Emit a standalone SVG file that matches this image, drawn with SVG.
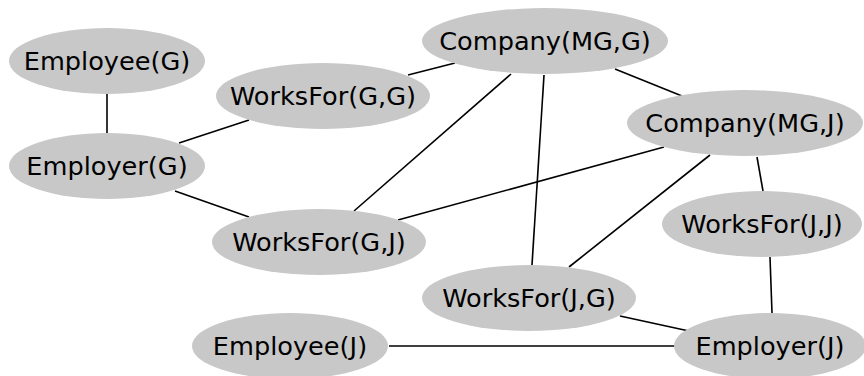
<svg xmlns="http://www.w3.org/2000/svg" width="864" height="376" viewBox="0 0 864 376">
<style>
.n ellipse{fill:#c8c8c8;stroke:none}
.n text{font-family:"DejaVu Sans",sans-serif;font-size:25.6px;fill:#000;text-anchor:middle}
.e line{stroke:#000;stroke-width:1.6}
</style>
<rect width="864" height="376" fill="#fff"/>
<g class="e" id="edges">
<line x1="107" y1="94" x2="107" y2="133"/>
<line x1="179" y1="143" x2="249" y2="120"/>
<line x1="408" y1="75" x2="455" y2="63"/>
<line x1="175" y1="191" x2="249" y2="217"/>
<line x1="354" y1="211" x2="511" y2="74"/>
<line x1="398" y1="220" x2="664" y2="147"/>
<line x1="615" y1="69" x2="682" y2="96"/>
<line x1="544" y1="75" x2="532" y2="265"/>
<line x1="710" y1="155" x2="569" y2="267"/>
<line x1="757" y1="157" x2="763" y2="191"/>
<line x1="770" y1="257" x2="772" y2="313"/>
<line x1="620" y1="316" x2="689" y2="331"/>
<line x1="389" y1="346" x2="675" y2="346"/>
</g>
<g class="n" id="employee_g"><ellipse cx="107" cy="61" rx="98" ry="33"/><text x="107" y="70">Employee(G)</text></g>
<g class="n" id="worksfor_gg"><ellipse cx="323" cy="96" rx="107" ry="33"/><text x="323" y="105">WorksFor(G,G)</text></g>
<g class="n" id="employer_g"><ellipse cx="107" cy="166" rx="98" ry="33"/><text x="107" y="175">Employer(G)</text></g>
<g class="n" id="company_mg_g"><ellipse cx="545" cy="41" rx="123" ry="33"/><text x="545" y="50">Company(MG,G)</text></g>
<g class="n" id="company_mg_j"><ellipse cx="745" cy="123" rx="118" ry="33"/><text x="745" y="132">Company(MG,J)</text></g>
<g class="n" id="worksfor_gj"><ellipse cx="319" cy="242" rx="107" ry="33"/><text x="319" y="251">WorksFor(G,J)</text></g>
<g class="n" id="worksfor_jj"><ellipse cx="762" cy="224" rx="100" ry="33"/><text x="762" y="233">WorksFor(J,J)</text></g>
<g class="n" id="worksfor_jg"><ellipse cx="529" cy="298" rx="107" ry="33"/><text x="529" y="307">WorksFor(J,G)</text></g>
<g class="n" id="employee_j"><ellipse cx="290" cy="346" rx="98" ry="33"/><text x="290" y="355">Employee(J)</text></g>
<g class="n" id="employer_j"><ellipse cx="770" cy="346" rx="96" ry="33"/><text x="770" y="355">Employer(J)</text></g>
</svg>
